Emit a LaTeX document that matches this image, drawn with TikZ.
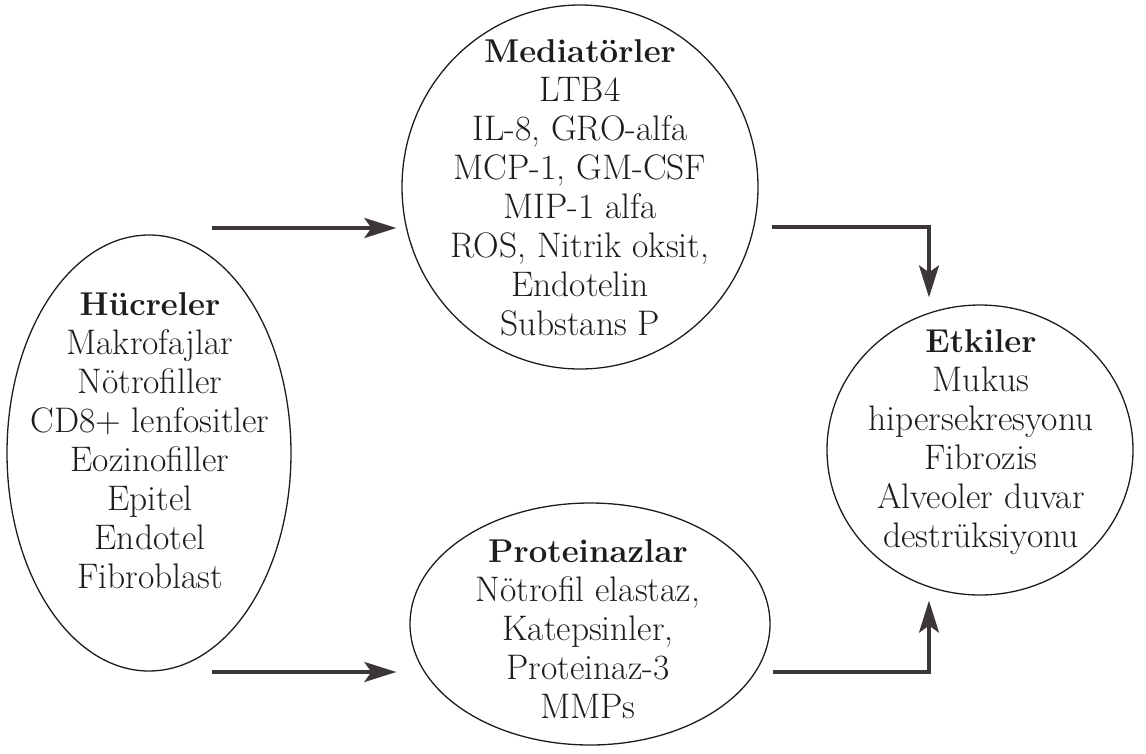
\documentclass[tikz,border=0pt]{standalone}
\usepackage{xcolor}
\usepackage{tikz}
\usetikzlibrary{shapes.geometric,arrows.meta}
\definecolor{inkGray}{rgb}{0.12,0.11,0.11}
\definecolor{arrowGray}{rgb}{0.24,0.21,0.21}
\newcommand{\listhead}[1]{{\fontsize{33}{39}\selectfont\textbf{#1}}}

\begin{document}
\begin{tikzpicture}[x=1pt,y=-1pt,>={Stealth[length=32pt,width=20pt,inset=7pt]},semithick]
  \tikzstyle{blob}=[ellipse,draw=inkGray,line width=1.3pt,inner sep=0pt]
  \tikzstyle{list}=[align=center,anchor=north,inner sep=0pt,text=inkGray,font=\fontsize{35.5}{39}\selectfont]
  \tikzstyle{arr}=[->,draw=arrowGray,line width=3.2pt]
  \useasboundingbox (0,0) rectangle (1146,753);

  \node[blob,minimum width=284pt,minimum height=436pt] (huc) at (149,453) {};
  \node[blob,minimum width=356pt,minimum height=364pt] (med) at (580,187) {};
  \node[blob,minimum width=360pt,minimum height=242pt] (pro) at (590,624) {};
  \node[blob,minimum width=306pt,minimum height=290pt] (etk) at (980,450) {};

  \node[list] (hucText) at (150,292) {\listhead{Hücreler}\\Makrofajlar\\Nötrofiller\\CD8+ lenfositler\\Eozinofiller\\Epitel\\Endotel\\Fibroblast};
  \node[list] (medText) at (580,39) {\listhead{Mediatörler}\\LTB4\\IL-8, GRO-alfa\\MCP-1, GM-CSF\\MIP-1 alfa\\ROS, Nitrik oksit,\\Endotelin\\Substans P};
  \node[list] (proText) at (588,539) {\listhead{Proteinazlar}\\Nötrofil elastaz,\\Katepsinler,\\Proteinaz-3\\MMPs};
  \node[list] (etkText) at (981,329) {\listhead{Etkiler}\\Mukus\\hipersekresyonu\\Fibrozis\\Alveoler duvar\\destrüksiyonu};

  \coordinate (a1) at (212,228);
  \coordinate (a2) at (212,672);
  \coordinate (b1) at (772,227);
  \coordinate (b2) at (773,672);

  \draw[arr] (a1) -- ([xshift=-5pt]a1 -| med.west);
  \draw[arr] (a2) -- ([xshift=-13pt]a2 -| pro.west);
  \draw[arr] (b1) -| ([xshift=-51pt,yshift=7pt]etk.north);
  \draw[arr] (b2) -| ([xshift=-51pt,yshift=-5pt]etk.south);
\end{tikzpicture}
\end{document}
